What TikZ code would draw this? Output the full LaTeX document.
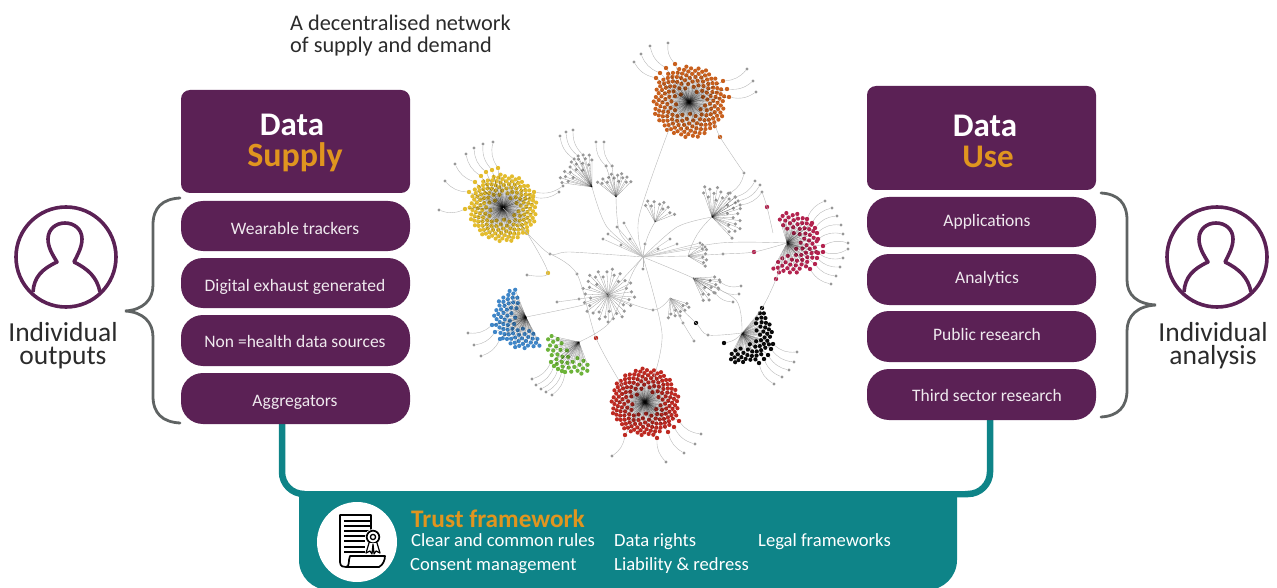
\documentclass[tikz,border=0pt]{standalone}
\usepackage{fontspec}
\setmainfont{Carlito}
\usetikzlibrary{calc}
\definecolor{purp}{HTML}{5B2155}
\definecolor{amber}{HTML}{E0951F}
\definecolor{teal1}{HTML}{0E8488}
\definecolor{bracec}{HTML}{5F6363}
\definecolor{txt}{HTML}{2B2B2B}
\definecolor{gdotc}{HTML}{989898}
\definecolor{orangeh}{HTML}{C8601E}
\definecolor{yellowh}{HTML}{E3BC2E}
\definecolor{crimsonh}{HTML}{B3234F}
\definecolor{blueh}{HTML}{3F86C8}
\definecolor{greenh}{HTML}{6DB33A}
\definecolor{redh}{HTML}{BE2A22}
\definecolor{blackh}{HTML}{0A0A0A}
\newcommand{\fs}[1]{\fontsize{#1}{#1}\selectfont}
\def\hubdot{4.2pt}
\tikzset{
  x=1pt,y=-1pt,
  headbox/.style={fill=purp,rounded corners=9pt},
  pillbox/.style={fill=purp,rounded corners=22pt},
  pilltext/.style={text=white!90!purp,font=\fs{17.5},inner sep=0pt,anchor=center,text height=12pt,text depth=4pt,yshift=-2pt},
  bigtext/.style={font=\fs{33}\bfseries,inner sep=0pt,anchor=center,yshift=-.8pt},
  curly/.style={draw=bracec,line width=2.8pt,line cap=round},
  persona/.style={draw=purp,line width=3.6pt},
  sidelabel/.style={text=txt,font=\fontsize{27.5}{23}\selectfont,inner sep=0pt,anchor=center,align=center,yshift=-1pt},
  trustitem/.style={text=white,font=\fs{18.6},inner sep=0pt,anchor=west,text height=13pt,text depth=4pt,yshift=-2pt},
  netdot/.style={circle,inner sep=0pt,minimum size=\hubdot,fill=#1},
  gdot/.style={circle,inner sep=0pt,minimum size=3.4pt,fill=gdotc},
  spoke/.style={draw=black,line width=.28pt,opacity=.4},
  link/.style={draw=gray!55,line width=.4pt},
  trustline/.style={draw=teal1,line width=6.5pt},
}
% name, x, y, rmin, rmax, start, span, n, colour
\newcommand{\hubfan}[9]{%
  \coordinate (#1) at (#2,#3);
  \foreach \i in {1,...,#8}{
    \pgfmathsetmacro{\fr}{#4+(#5-#4)*sqrt(\i/#8)}
    \pgfmathsetmacro{\fa}{#6+#7*(\i*0.618034-floor(\i*0.618034))}
    \node[netdot=#9] (#1-\i) at ($(#1)+(\fa:\fr)$) {};
    \draw[spoke] (#1) -- (#1-\i);
  }
}
\newcommand{\hubleaves}[3]{%
  \foreach \cx/\cy/\gx/\gy [count=\j] in {#3}{
    \node[netdot=#2] (#1-c\j) at (\cx,\cy) {};
    \node[gdot] (#1-g\j) at (\gx,\gy) {};
    \draw[spoke] (#1) -- (#1-c\j);
    \draw[link] (#1-c\j) to[bend left=22] (#1-g\j);
  }
}
\newcommand{\hubleavesr}[3]{%
  \foreach \cx/\cy/\gx/\gy [count=\j] in {#3}{
    \node[netdot=#2] (#1-c\j) at (\cx,\cy) {};
    \node[gdot] (#1-g\j) at (\gx,\gy) {};
    \draw[spoke] (#1) -- (#1-c\j);
    \draw[link] (#1-c\j) to[bend right=22] (#1-g\j);
  }
}
\newcommand{\personicon}[2]{%
  \coordinate (#1) at (#2,257);
  \draw[persona] (#1) circle (50);
  \draw[persona,line join=round] ($(#1)+(-33,35)$)
    .. controls ($(#1)+(-32,20)$) and ($(#1)+(-24,12)$) .. ($(#1)+(-9,5)$)
    .. controls ($(#1)+(-14,-3)$) and ($(#1)+(-18,-10)$) .. ($(#1)+(-18,-18)$)
    .. controls ($(#1)+(-18,-28)$) and ($(#1)+(-10,-34)$) .. ($(#1)+(-1,-34)$)
    .. controls ($(#1)+(8,-34)$) and ($(#1)+(16,-28)$) .. ($(#1)+(16,-18)$)
    .. controls ($(#1)+(16,-10)$) and ($(#1)+(12,-3)$) .. ($(#1)+(8,5)$)
    .. controls ($(#1)+(22,12)$) and ($(#1)+(31,20)$) .. ($(#1)+(34,35)$);
}
\begin{document}
\begin{tikzpicture}
\useasboundingbox (0,0) rectangle (1277,588);
\clip (0,0) rectangle (1277,588);

% ---------- network ----------
\hubfan{orange}{689}{102}{9}{36}{0}{360}{170}{orangeh}
\hubfan{yellow}{503}{208}{9}{34}{0}{360}{170}{yellowh}
\hubfan{redhub}{645}{402}{9}{34}{0}{360}{170}{redh}
\hubfan{crimson}{787}{243}{8}{31}{-110}{230}{66}{crimsonh}
\hubfan{bluehub}{526}{317}{8}{32}{60}{190}{70}{blueh}
\hubfan{greenhub}{579}{342}{11}{32}{65}{130}{32}{greenh}
\hubfan{blackhub}{742}{333}{11}{30}{-50}{170}{50}{blackh}
\def\hubdot{3.5pt}
\hubfan{greyhub}{608}{295}{13}{27}{0}{360}{36}{gdotc}
\hubfan{fana}{592}{187}{15}{33}{185}{90}{18}{gdotc}
\hubfan{fanb}{616}{197}{13}{24}{215}{105}{14}{gdotc}
\hubfan{fanc}{655}{222}{12}{22}{230}{115}{10}{gdotc}
\hubfan{fand}{712}{217}{12}{31}{-115}{165}{26}{gdotc}
\hubfan{fane}{693}{278}{10}{28}{-10}{80}{12}{gdotc}
\hubfan{fanf}{688}{256}{12}{20}{-45}{80}{8}{gdotc}
\hubfan{fang}{670}{298}{10}{21}{10}{90}{10}{gdotc}

\hubleaves{fana}{gdotc}{574/159/560/136,578/156/566/132,583/155/573/130}
\hubleaves{fanb}{gdotc}{606/166/596/142,612/166/604/142}
\hubleavesr{fand}{gdotc}{730/193/744/173,735/197/755/181,738/201/760/185,740/205/762/192}
\hubleavesr{fane}{gdotc}{720/282/741/286,718/288/739/294,715/293/733/302}
\def\hubdot{4.4pt}
\hubleaves{orange}{orangeh}{656/78/634/62,660/73/641/54,666/68/650/46,675/64/668/43}
\hubleavesr{orange}{orangeh}{723/81/747/69,727/89/753/81,729/97/756/92}
\hubleaves{yellow}{yellowh}{465/209/439/210,469/192/445/181,475/182/455/164,481/176/466/154,486/172/474/148,492/170/483/144,498/168/493/142}
\hubleavesr{yellow}{yellowh}{534/192/563/186,533/197/559/192}
\hubleaves{crimson}{crimsonh}{807/219/825/201,812/223/832/208,815/228/837/216,817/233/841/225,818/239/843/234,823/246/848/243}
\hubleavesr{crimson}{crimsonh}{823/252/848/249,818/253/843/258,817/258/840/267,815/264/836/276,810/269/831/284}
\hubleaves{bluehub}{blueh}{492/325/468/333,495/332/474/345,500/339/481/356}
\hubleaves{greenhub}{greenh}{551/362/532/379,554/366/536/385,558/369/541/389,562/371/546/392,565/372/552/395}
\hubleavesr{blackhub}{blackh}{773/344/797/352,771/349/794/362,768/355/789/370,764/359/782/377,759/363/774/384}
\hubleavesr{redhub}{redh}{679/421/701/434,674/427/695/444,668/432/684/453,657/438/666/462}
\hubleaves{redhub}{redh}{625/435/612/456}

% central hub and its near neighbours
\coordinate (central) at (643,257);
\foreach \px/\py [count=\k] in {624/223,617/227,603/239,630/239,608/234,621/245,645/244,670/239,677/244,700/243,705/247,658/249,643/269}{
  \node[gdot] (near\k) at (\px,\py) {};
  \draw[link] (central) -- (near\k);
}
\node[netdot=orangeh] (orangelink) at (720,137) {};
\node[netdot=crimsonh] (crimsona) at (767,207) {};
\node[netdot=crimsonh] (crimsonb) at (754,252) {};
\node[netdot=crimsonh] (crimsonc) at (776,279) {};
\node[netdot=blackh] (blacka) at (762,308) {};
\node[netdot=blackh] (blackb) at (724,343) {};
\node[netdot=blackh] (blackc) at (696,323) {};
\node[netdot=yellowh] (yellowa) at (527,233) {};
\node[netdot=yellowh] (yellowb) at (548,273) {};
\node[netdot=redh] (reda) at (596,338) {};
\node[gdot] (g1) at (527,275) {};
\node[gdot] (g2) at (550,254) {};
\node[gdot] (g3) at (577,274) {};
\node[gdot] (g4) at (557,302) {};
\node[gdot] (g5) at (579,299) {};
\node[gdot] (g6) at (653,310) {};
\node[gdot] (g7) at (723,254) {};
\node[gdot] (g8) at (708,335) {};
\node[gdot] (g9) at (694,341) {};
\node[gdot] (g10) at (683,323) {};
\coordinate (w1) at (639,217);
\coordinate (w2) at (662,333);
\coordinate (w3) at (671,124);
\coordinate (w4) at (715,123);
\coordinate (w5) at (623,387);
\coordinate (w6) at (653,380);
\coordinate (w7) at (610,322);
\coordinate (w8) at (633,272);
\coordinate (w11) at (583,305);
\coordinate (w12) at (677,227);
\coordinate (w13) at (720,243);
\coordinate (w14) at (607,227);
\coordinate (w15) at (620,233);
\coordinate (w16) at (773,233);
\coordinate (w17) at (736,300);
\coordinate (w18) at (570,252);

\draw[link] plot[smooth] coordinates {(w3) (w1) (central)};
\draw[link] plot[smooth] coordinates {(w4) (orangelink) (fand-g1)};
\draw[link] plot[smooth] coordinates {(fand-g4) (crimsona) (w16)};
\draw[link] plot[smooth] coordinates {(yellow) (yellowa) (g2) (w18) (central)};
\draw[link] plot[smooth] coordinates {(yellowa) (yellowb) (g1)};
\draw[link] plot[smooth] coordinates {(g2) (g3) (reda) (w5)};
\draw[link] plot[smooth] coordinates {(w6) (w2) (central)};
\draw[link] plot[smooth] coordinates {(greenhub) (w7) (w8) (central)};
\draw[link] plot[smooth] coordinates {(bluehub) (w11) (greyhub)};
\draw[link] (central) -- (greyhub);
\draw[link] plot[smooth] coordinates {(g4) (g5) (greyhub)};
\draw[link] plot[smooth] coordinates {(greyhub) (g6) (fang)};
\draw[link] plot[smooth] coordinates {(central) (w12) (fand)};
\draw[link] plot[smooth] coordinates {(central) (w13) (crimson)};
\draw[link] plot[smooth] coordinates {(central) (w14) (fana)};
\draw[link] plot[smooth] coordinates {(central) (w15) (fanb)};
\draw[link] (central) to[bend left=12] (fanc);
\draw[link] (central) -- (fanf);
\draw[link] plot[smooth] coordinates {(central) (fane) (w17) (blackhub)};
\draw[link] plot[smooth] coordinates {(fang) (blackc) (g8) (blackhub)};
\draw[link] (blackb) to[bend right=20] (blackhub);
\draw[link] plot[smooth] coordinates {(fang) (g10) (g9)};
\draw[link] plot[smooth] coordinates {(blackhub) (blacka) (crimsonc) (crimson)};
\draw[link] plot[smooth] coordinates {(fanf) (g7) (crimsonb) (crimson)};
\draw[link] (fand) to[bend right=15] (fanf);

% ---------- title ----------
\node[text=txt,font=\fontsize{22.3}{22}\selectfont,align=left,anchor=north west,inner sep=0pt] (title) at (290,15)
  {A decentralised network\\of supply and demand};

% ---------- trust framework ----------
\path[fill=teal1] (299,492) -- (957,492) -- (957,560) arc[start angle=0,end angle=90,radius=30] -- (329,590) arc[start angle=90,end angle=180,radius=30] -- cycle;
\coordinate (supplydrop) at (282,424);
\coordinate (usedrop) at (990,420);
\draw[trustline,rounded corners=22pt] (supplydrop) -- (282,494) -- (990,494) -- (usedrop);
\draw[white,line width=.6pt] (305,490.3) -- (965,490.3);

\node[circle,fill=white,minimum size=80pt,inner sep=0pt] (seal) at (357,542) {};
\begin{scope}[line width=1.7pt,draw=black]
 \draw[line join=round] (371,552) -- (371,515) -- (340,515) -- (340,562)
   .. controls (340,567) and (344,567) .. (346,567) -- (379,567)
   .. controls (383,565) and (385,560) .. (385,556) -- (350,556)
   .. controls (348,560) and (350,567) .. (346,567);
 \foreach \ly/\lx in {521/370,526/370,531/370,536/366,541/365,547/365,552/365}{
   \fill[black] (344,\ly-1.3) rectangle (\lx,\ly+1.3);
 }
 \fill[white] (373,537) circle (8);
 \draw (373,537) circle (6.3);
 \draw[line width=1.3pt] (373,537) circle (2.6);
 \draw[fill=white,line join=round,line width=1.2pt] (369,543) -- (366,553) -- (370,551) -- (372,554) -- (373,544) -- (374,554) -- (376,551) -- (380,553) -- (377,543);
\end{scope}
\node[text=amber,font=\fs{25.3}\bfseries,inner sep=0pt,anchor=west] (trusttitle) at (411,518.5) {Trust framework};
\node[trustitem] (t1) at (411,540) {Clear and common rules};
\node[trustitem] (t2) at (614,540) {Data rights};
\node[trustitem] (t3) at (758,540) {Legal frameworks};
\node[trustitem] (t4) at (410,564) {Consent management};
\node[trustitem] (t5) at (614,564) {Liability \& redress};

% ---------- supply ----------
\path[headbox] (181,90) rectangle (410,193);
\node[bigtext,text=white] (ds1) at (292,124) {Data};
\node[bigtext,text=amber,font=\fs{34}\bfseries] (ds2) at (295,156) {Supply};
\path[pillbox] (181,201) rectangle (410,251);
\path[pillbox] (181,258) rectangle (410,308);
\path[pillbox] (181,315) rectangle (410,366);
\path[pillbox] (181,373) rectangle (410,424);
\node[pilltext] (s1) at (295,228) {Wearable trackers};
\node[pilltext] (s2) at (295,285) {Digital exhaust generated};
\node[pilltext] (s3) at (295,341) {Non =health data sources};
\node[pilltext] (s4) at (295,400) {Aggregators};

% ---------- use ----------
\path[headbox] (867,86) rectangle (1096,190);
\node[bigtext,text=white] (du1) at (985,125) {Data};
\node[bigtext,text=amber] (du2) at (988,156) {Use};
\path[pillbox] (867,197) rectangle (1096,247);
\path[pillbox] (867,254) rectangle (1096,305);
\path[pillbox] (867,311) rectangle (1096,362);
\path[pillbox] (867,369) rectangle (1096,420);
\node[pilltext] (u1) at (987,220) {Applications};
\node[pilltext] (u2) at (987,277) {Analytics};
\node[pilltext] (u3) at (987,334) {Public research};
\node[pilltext] (u4) at (987,395) {Third sector research};

% ---------- braces ----------
\draw[curly] (180,198) .. controls (162,199) and (153,208) .. (153,225) -- (153,285)
  .. controls (153,300) and (143,310) .. (125,311)
  .. controls (143,312) and (153,322) .. (153,337) -- (153,396)
  .. controls (153,413) and (162,422) .. (180,423);
\draw[curly] (1101,193) .. controls (1118,194) and (1127,203) .. (1127,220) -- (1127,280)
  .. controls (1127,295) and (1137,304) .. (1156,305)
  .. controls (1137,306) and (1127,316) .. (1127,331) -- (1127,390)
  .. controls (1127,407) and (1118,416) .. (1101,417);

% ---------- people ----------
\personicon{pleft}{66}
\personicon{pright}{1217}
\node[sidelabel] (l1) at (63,345) {Individual\\outputs};
\node[sidelabel] (r1) at (1213,345) {Individual\\analysis};
\end{tikzpicture}
\end{document}
